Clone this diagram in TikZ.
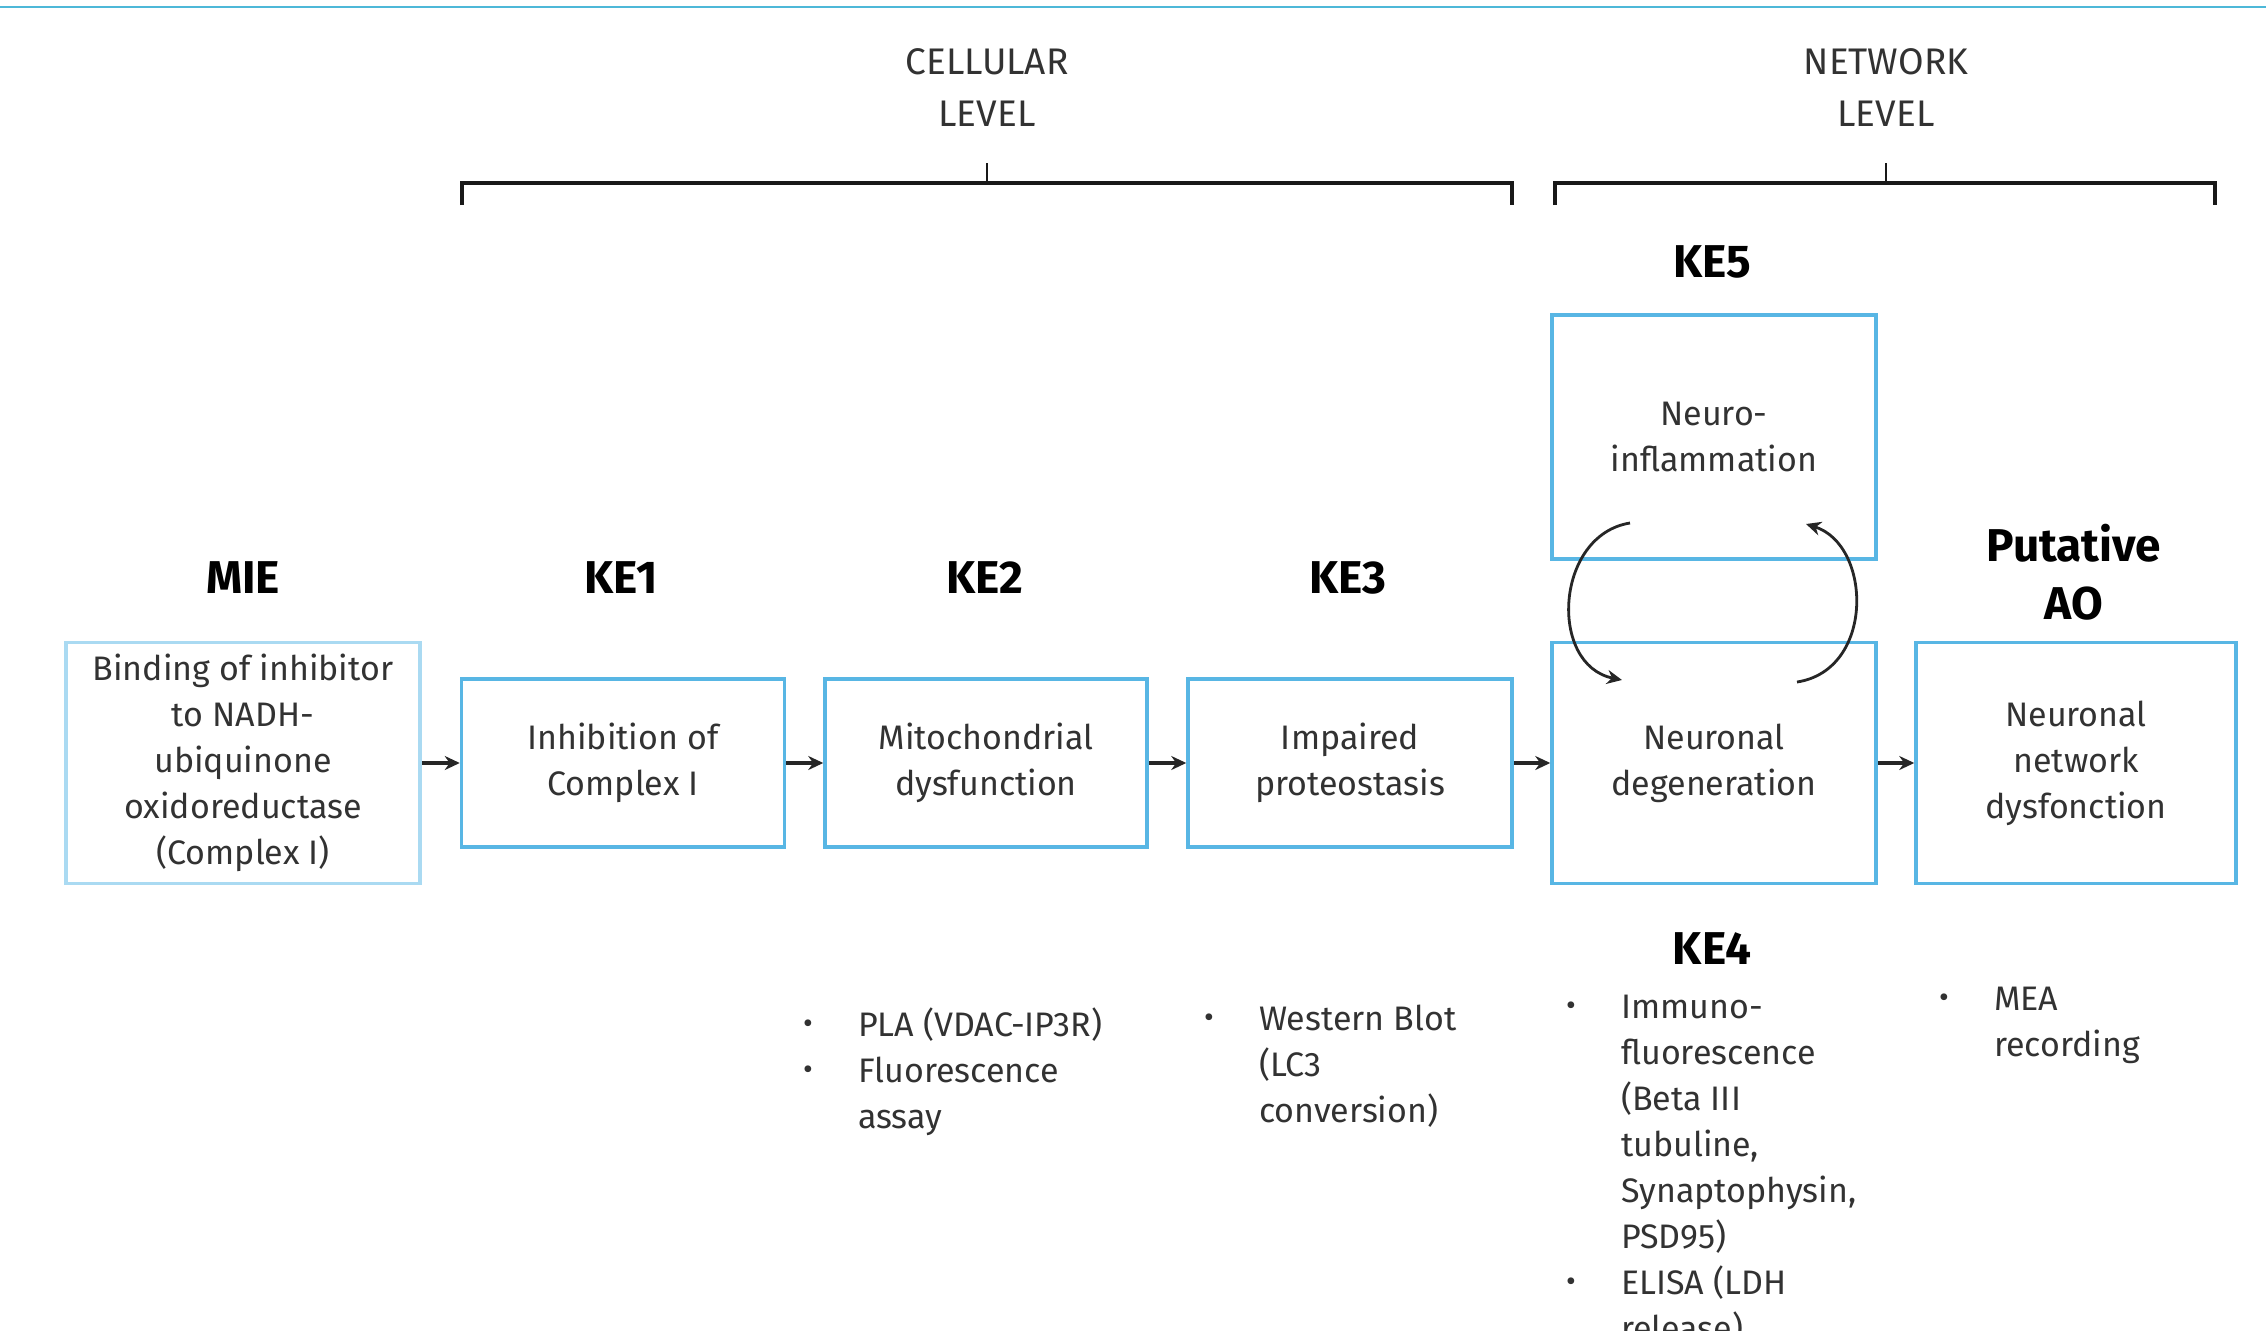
\documentclass[tikz,border=0pt]{standalone}
\usepackage{fontspec}
\setmainfont{Fira Sans}
\usetikzlibrary{arrows.meta}
\definecolor{boxblue}{RGB}{88,182,228}
\definecolor{paleblue}{RGB}{170,218,242}
\definecolor{topline}{RGB}{77,184,216}
\definecolor{txt}{RGB}{50,50,50}
\newcommand{\bul}{\makebox[55pt][l]{\raisebox{3pt}{\fontsize{30}{30}\selectfont\textbullet}}}
\newcommand{\ind}{\hspace*{55pt}}
\newcommand{\topstrut}{\rule{0pt}{30pt}}
\tikzset{
  kebox/.style={draw=boxblue, line width=3.5pt, fill=white, align=center, text=txt,
    font=\fontsize{34}{46}\selectfont, inner sep=0pt},
  miebox/.style={kebox, draw=paleblue},
  title/.style={font=\fontsize{46}{58}\selectfont\bfseries, align=center, text=black},
  level/.style={font=\fontsize{37}{52}\selectfont, align=center, text=txt},
  listtext/.style={font=\fontsize{34}{46}\selectfont, align=left, text=txt, anchor=north west, inner sep=0pt},
  arr/.style={line width=3.5pt, draw=black!85, -{Stealth[length=15pt,width=14pt]}},
  cyc/.style={line width=2.8pt, draw=black!85, -{Stealth[length=15pt,width=14pt]}},
  brace/.style={line width=3.5pt, draw=black!90},
}
\begin{document}
\begin{tikzpicture}[x=1pt,y=-1pt]
\useasboundingbox (0,0) rectangle (2266,1330);
\clip (0,0) rectangle (2266,1330);
\fill[white] (0,0) rectangle (2266,1330);
\draw[topline, line width=2.5pt] (0,7) -- (2266,7);

% level labels
\node[level] (cell) at (987,88) {CELLULAR\\LEVEL};
\node[level] (net) at (1886,88) {NETWORK\\LEVEL};

% brackets
\draw[brace] (462,205) -- (462,183) -- (1512,183) -- (1512,205);
\draw[brace, line width=2pt] (987,183) -- (987,163);
\draw[brace] (1555,205) -- (1555,183) -- (2215,183) -- (2215,205);
\draw[brace, line width=2pt] (1886,183) -- (1886,163);

% boxes
\node[miebox, minimum width=354pt, minimum height=241pt] (mie) at (243,763)
  {Binding of inhibitor\\to NADH-\\ubiquinone\\oxidoreductase\\(Complex I)};
\node[kebox, minimum width=323pt, minimum height=168pt] (ke1) at (623,763)
  {Inhibition of\\Complex I};
\node[kebox, minimum width=322pt, minimum height=168pt] (ke2) at (986,763)
  {Mitochondrial\\dysfunction};
\node[kebox, minimum width=324pt, minimum height=168pt] (ke3) at (1350,763)
  {Impaired\\proteostasis};
\node[kebox, minimum width=324pt, minimum height=244pt] (ke5) at (1714,437)
  {Neuro-\\inflammation};
\node[kebox, minimum width=324pt, minimum height=241pt] (ke4) at (1714,763)
  {Neuronal\\degeneration};
\node[kebox, minimum width=320pt, minimum height=241pt] (ao) at (2076,763)
  {Neuronal\\network\\dysfonction};

% titles
\node[title] (tmie) at (243,578) {MIE};
\node[title] (tke1) at (621,578) {KE1};
\node[title] (tke2) at (985,578) {KE2};
\node[title] (tke3) at (1348,578) {KE3};
\node[title] (tke5) at (1712,262) {KE5};
\node[title] (tke4) at (1712,949) {KE4};
\node[title] (tao) at (2074,572) {Putative\\AO};

% arrows
\draw[arr] (mie.east) -- (ke1.west);
\draw[arr] (ke1.east) -- (ke2.west);
\draw[arr] (ke2.east) -- (ke3.west);
\draw[arr] (ke3.east) -- (ke4.west);
\draw[arr] (ke4.east) -- (ao.west);

% cycle arrows
\coordinate (c1) at (1630,523);
\coordinate (c2) at (1622,680);
\coordinate (c3) at (1797,682);
\coordinate (c4) at (1806,524);
\draw[cyc] (c1) .. controls (1555,535) and (1548,665) .. (c2);
\draw[cyc] (c3) .. controls (1875,670) and (1872,545) .. (c4);

% lists (first baseline = y + 30)
\node[listtext] (l2) at (803,1006) {\topstrut\bul PLA (VDAC-IP3R)\\\bul Fluorescence\\\ind assay};
\node[listtext] (l3) at (1204,1000) {\topstrut\bul Western Blot\\\ind (LC3\\\ind conversion)};
\node[listtext] (l4) at (1566,988) {\topstrut\bul Immuno-\\\ind fluorescence\\\ind (Beta III\\\ind tubuline,\\\ind Synaptophysin,\\\ind PSD95)\\\bul ELISA (LDH\\\ind release)};
\node[listtext] (l5) at (1939,980) {\topstrut\bul MEA\\\ind recording};
\end{tikzpicture}
\end{document}
